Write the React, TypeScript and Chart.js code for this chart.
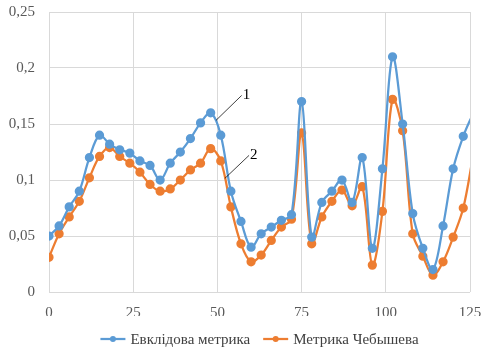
import React, { useEffect, useRef } from "react";
import { Chart, registerables } from "chart.js";

Chart.register(...registerables);

const xValues = [0, 3, 6, 9, 12, 15, 18, 21, 24, 27, 30, 33, 36, 39, 42, 45, 48, 51, 54, 57, 60, 63, 66, 69, 72, 75, 78, 81, 84, 87, 90, 93, 96, 99, 102, 105, 108, 111, 114, 117, 120, 123, 126];
const euclid = [0.050, 0.059, 0.076, 0.090, 0.120, 0.140, 0.132, 0.127, 0.124, 0.117, 0.113, 0.100, 0.115, 0.125, 0.137, 0.151, 0.160, 0.140, 0.090, 0.063, 0.040, 0.052, 0.058, 0.064, 0.069, 0.170, 0.049, 0.080, 0.090, 0.100, 0.080, 0.120, 0.039, 0.110, 0.210, 0.150, 0.070, 0.039, 0.020, 0.059, 0.110, 0.139, 0.160];
const chebyshev = [0.031, 0.052, 0.067, 0.081, 0.102, 0.121, 0.129, 0.121, 0.115, 0.107, 0.096, 0.090, 0.092, 0.100, 0.109, 0.115, 0.128, 0.117, 0.076, 0.043, 0.027, 0.033, 0.046, 0.058, 0.065, 0.142, 0.043, 0.067, 0.081, 0.091, 0.077, 0.094, 0.024, 0.072, 0.172, 0.144, 0.052, 0.032, 0.015, 0.027, 0.049, 0.075, 0.123];
const seriesNames = ["Евклідова метрика", "Метрика Чебышева"];
const seriesColors = ["#5B9BD5", "#ED7D31"];
// callout labels: [label, fromX, fromY, toX, toY]
const callouts: [string, number, number, number, number][] = [
  ["1", 49.6, 0.1533, 57.2, 0.1755],
  ["2", 52.2, 0.1014, 59.4, 0.122],
];

const FONT = "'Liberation Serif', 'Times New Roman', serif";

export default function App() {
  const ref = useRef<HTMLCanvasElement>(null);
  useEffect(() => {
    const last = xValues.length - 1;
    const calloutPlugin = {
      id: "callouts",
      afterDatasetsDraw(chart: any) {
        const { ctx, scales } = chart;
        ctx.save();
        ctx.strokeStyle = "#000";
        ctx.lineWidth = 0.75;
        ctx.fillStyle = "#000";
        ctx.font = `15px ${FONT}`;
        ctx.textAlign = "left";
        ctx.textBaseline = "middle";
        for (const [label, x0, y0, x1, y1] of callouts) {
          const px0 = scales.x.getPixelForValue(x0);
          const py0 = scales.y.getPixelForValue(y0);
          const px1 = scales.x.getPixelForValue(x1);
          const py1 = scales.y.getPixelForValue(y1);
          ctx.beginPath();
          ctx.moveTo(px0, py0);
          ctx.lineTo(px1, py1);
          ctx.stroke();
          ctx.fillText(label, px1 + 1, py1);
        }
        ctx.restore();
      },
    };
    const legendPlugin = {
      id: "customLegend",
      afterDraw(chart: any) {
        const { ctx, chartArea } = chart;
        ctx.save();
        ctx.font = `15px ${FONT}`;
        const markW = 25, gapText = 5, gapItem = 13;
        const widths = seriesNames.map((n) => ctx.measureText(n).width);
        const total = widths.reduce((a, w) => a + markW + gapText + w, 0) + gapItem * (seriesNames.length - 1);
        let x = (chartArea.left + chartArea.right) / 2 - total / 2;
        const y = chart.height - 11;
        seriesNames.forEach((name, i) => {
          const c = seriesColors[i];
          ctx.strokeStyle = c;
          ctx.lineWidth = 2.25;
          ctx.beginPath();
          ctx.moveTo(x, y);
          ctx.lineTo(x + markW, y);
          ctx.stroke();
          ctx.fillStyle = c;
          ctx.beginPath();
          ctx.arc(x + markW / 2, y, 3, 0, Math.PI * 2);
          ctx.fill();
          ctx.fillStyle = "#404040";
          ctx.textAlign = "left";
          ctx.textBaseline = "middle";
          ctx.fillText(name, x + markW + gapText, y + 1);
          x += markW + gapText + widths[i] + gapItem;
        });
        ctx.restore();
      },
    };
    const mk = (vals: number[], i: number) => ({
      label: seriesNames[i],
      data: xValues.map((x, k) => ({ x, y: vals[k] })),
      borderColor: seriesColors[i],
      backgroundColor: seriesColors[i],
      borderWidth: 2.25,
      pointStyle: "circle",
      pointRadius: (c: any) => (c.dataIndex === last ? 0 : 3.5),
      pointHoverRadius: 3.5,
      tension: 0.35,
      clip: 0,
    });
    const chart = new Chart(ref.current!, {
      type: "line",
      data: { datasets: [mk(euclid, 0), mk(chebyshev, 1)] },
      options: {
        animation: false,
        responsive: false,
        layout: { padding: { left: 0, right: 12, top: 12, bottom: 34 } },
        scales: {
          x: {
            type: "linear",
            min: 0,
            max: 125,
            border: { display: false },
            grid: { color: "#d9d9d9", drawTicks: false, lineWidth: 1 },
            ticks: {
              stepSize: 25,
              padding: 12,
              color: "#595959",
              font: { family: FONT, size: 15 },
            },
            afterFit: (s: any) => {
              s.height = 24;
              s.paddingLeft = 0;
              s.paddingRight = 0;
            },
          },
          y: {
            min: 0,
            max: 0.25,
            border: { display: false },
            grid: { color: "#d9d9d9", drawTicks: false, lineWidth: 1 },
            ticks: {
              stepSize: 0.05,
              padding: 14,
              color: "#595959",
              font: { family: FONT, size: 15 },
              callback: (v: any) => String(Number(Number(v).toFixed(2))).replace(".", ","),
            },
            afterFit: (s: any) => {
              s.width = 49;
              s.paddingTop = 0;
              s.paddingBottom = 0;
            },
          },
        },
        plugins: {
          legend: { display: false },
          tooltip: { enabled: false },
        },
      },
      plugins: [calloutPlugin, legendPlugin],
    });
    return () => chart.destroy();
  }, []);
  return (
    <div style={{ position: "absolute", left: 0, top: 0 }}>
      <canvas ref={ref} width={482} height={350} />
    </div>
  );
}
